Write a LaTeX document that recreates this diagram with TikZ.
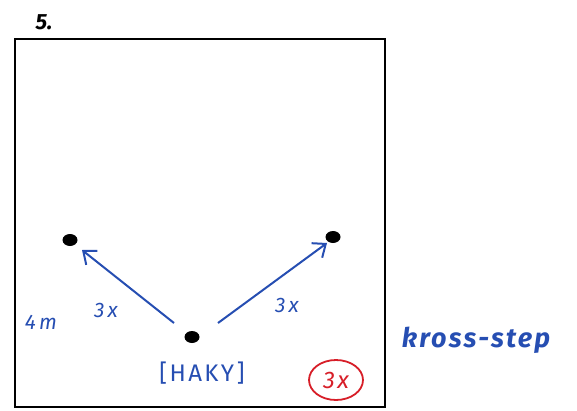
\documentclass[tikz,border=0pt]{standalone}
\usepackage{fontspec}
\setsansfont{Fira Sans}
\usetikzlibrary{arrows.meta,positioning,shapes.geometric}
\definecolor{pen}{RGB}{38,78,178}
\definecolor{redpen}{RGB}{215,30,40}

\begin{document}
\begin{tikzpicture}[x=1pt,y=-1pt,
    spot/.style={ellipse,fill=black,minimum width=15pt,minimum height=12pt,inner sep=0pt},
    move/.style={pen,line width=2pt,-{Straight Barb[length=11pt,width=18pt]}},
    hand/.style={text=pen,font=\sffamily\itshape\fontsize{21}{21}\selectfont\addfontfeature{LetterSpace=15}}]
  \useasboundingbox (0,0) rectangle (577,410);
  % hall
  \draw[line width=2pt] (15,39) rectangle (385,407);
  \node[font=\sffamily\bfseries\itshape\fontsize{22}{22}\selectfont] (nr) at (44,22) {5.};
  % spots
  \node[spot] (left) at (70,240) {};
  \node[spot] (right) at (333,237) {};
  \node[spot] (start) at (192,337) {};
  \draw[move] ([shift={(-18,-14)}]start.center) -- ([shift={(12,10)}]left.center);
  \draw[move] ([shift={(26,-14)}]start.center) -- ([shift={(-6,6)}]right.center);
  % labels
  \node[hand] (lab1) at (106,310) {3x};
  \node[hand] (lab2) at (287,305) {3x};
  \node[hand] (dist) at (41,322) {4m};
  \node[hand,font=\sffamily\fontsize{24}{24}\selectfont\addfontfeature{LetterSpace=10}] (name) at (202,373) {[HAKY]};
  \node[hand,font=\sffamily\bfseries\itshape\fontsize{27}{27}\selectfont\addfontfeature{LetterSpace=8}] (kind) at (476,340) {kross-step};
  \node[ellipse,draw=redpen,line width=1.8pt,text=redpen,minimum width=54pt,minimum height=40pt,inner sep=0pt,
    font=\sffamily\itshape\fontsize{24}{24}\selectfont\addfontfeature{LetterSpace=10}] (reps) at (336,380) {3x};
\end{tikzpicture}
\end{document}
